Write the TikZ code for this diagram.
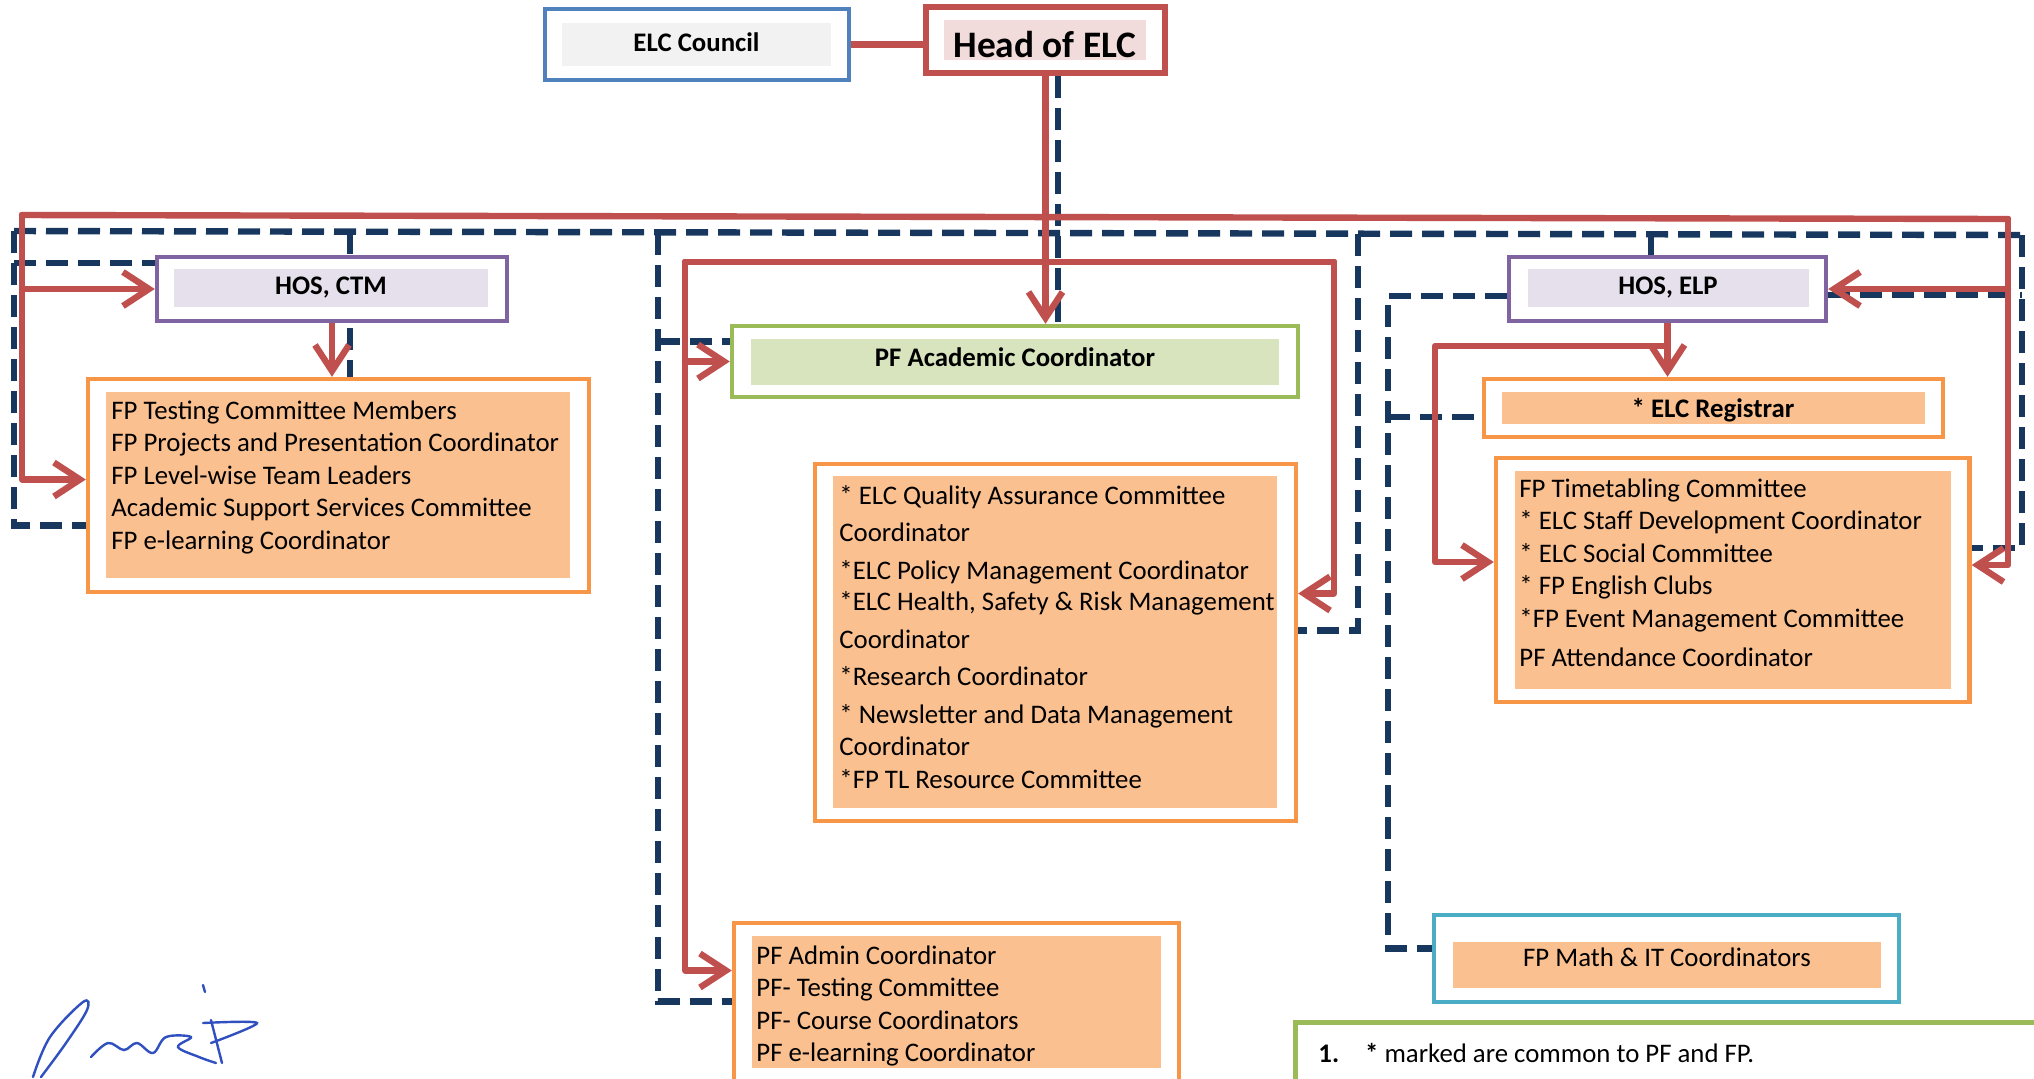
\documentclass[tikz,border=0pt]{standalone}
\usepackage{fontspec}
\setmainfont{Carlito}
\usetikzlibrary{arrows.meta, positioning, backgrounds, calc}
\definecolor{elcred}{HTML}{C0504D}
\definecolor{elcnavy}{HTML}{17375E}
\definecolor{elcblue}{HTML}{4F81BD}
\definecolor{elcgrey}{HTML}{F2F2F2}
\definecolor{elcpink}{HTML}{F2DCDB}
\definecolor{elcpurple}{HTML}{8064A2}
\definecolor{elclilac}{HTML}{E5E0EC}
\definecolor{elcgreen}{HTML}{9BBB59}
\definecolor{elclime}{HTML}{D7E4BD}
\definecolor{elcorange}{HTML}{F79646}
\definecolor{elcpeach}{HTML}{FAC090}
\definecolor{elcteal}{HTML}{4BACC6}
\definecolor{elcsign}{HTML}{3050C0}

\begin{document}
\begin{tikzpicture}[x=0.5pt, y=-0.5pt,
    frame/.style={draw, line width=2.2pt, fill=white, inner sep=0pt},
    panel/.style={inner sep=0pt},
    boxtext/.style={font=\fontsize{13.4}{16}\selectfont\bfseries},
    listtext/.style={font=\fontsize{13.4}{16.25}\selectfont, align=left, inner sep=0pt, anchor=north west},
    redline/.style={elcred, line width=3.2pt, line cap=round, line join=round},
    redarrow/.style={redline, -{Straight Barb[length=13pt, width=17pt, line width=3.2pt]}},
    navline/.style={elcnavy, line width=3.2pt, dash pattern=on 11pt off 5pt}
  ]
    \clip (0,0) rectangle (2034,1078);

    % top
    \node[frame, draw=elcblue, minimum width=152pt, minimum height=35.5pt] (council) at (697,44.5) {};
    \node[panel, fill=elcgrey, minimum width=134.5pt, minimum height=21.5pt, boxtext, text depth=2.6pt] (councilin) at (696.5,44.5) {ELC Council};
    \node[frame, draw=elcred, line width=2.6pt, minimum width=119.5pt, minimum height=33pt] (head) at (1045.5,40) {};
    \node[panel, fill=elcpink, minimum width=101pt, minimum height=20pt, font=\fontsize{18.7}{22}\selectfont\bfseries, text height=17pt, text depth=0pt] (headin) at (1045,40) {Head of ELC};

    % CTM side
    \node[frame, draw=elcpurple, minimum width=175pt, minimum height=32pt] (hosctm) at (332,289) {};
    \node[panel, fill=elclilac, minimum width=157pt, minimum height=19pt, boxtext] (hosctmin) at (331,288) {HOS, CTM};
    \node[frame, draw=elcorange, minimum width=250.5pt, minimum height=106.5pt] (ctmlist) at (338.5,485.5) {};
    \node[panel, fill=elcpeach, minimum width=232pt, minimum height=93pt] (ctmin) at (338,485) {};
    \node[listtext] (ctmtext) at (111,400) {FP Testing Committee Members\\
      FP Projects and Presentation Coordinator\\
      FP Level-wise Team Leaders\\
      Academic Support Services Committee\\
      FP e-learning Coordinator};

    % PF side
    \node[frame, draw=elcgreen, minimum width=283pt, minimum height=35.5pt] (acad) at (1015,361.5) {};
    \node[panel, fill=elclime, minimum width=264pt, minimum height=23pt, boxtext, text depth=5pt] (acadin) at (1015,362) {PF Academic Coordinator};
    \node[frame, draw=elcorange, minimum width=240.5pt, minimum height=178.5pt] (qalist) at (1055.5,642.5) {};
    \node[panel, fill=elcpeach, minimum width=222pt, minimum height=166pt] (qain) at (1055,642) {};
    \node[listtext, font=\fontsize{13.4}{15.5}\selectfont] (qatext) at (839,485) {* ELC Quality Assurance Committee\\[3pt]
      Coordinator\\[3.5pt]
      *ELC Policy Management Coordinator\\
      *ELC Health, Safety \& Risk Management\\[3.5pt]
      Coordinator\\[3pt]
      *Research Coordinator\\[3.5pt]
      * Newsletter and Data Management\\[0.5pt]
      Coordinator\\[1pt]
      *FP TL Resource Committee};
    \node[frame, draw=elcorange, minimum width=222.5pt, minimum height=83.5pt] (admlist) at (956.5,1006.5) {};
    \node[panel, fill=elcpeach, minimum width=204.5pt, minimum height=66pt] (admin) at (956.5,1002) {};
    \node[listtext] (admtext) at (756,945) {PF Admin Coordinator\\
      PF- Testing Committee\\
      PF- Course Coordinators\\
      PF e-learning Coordinator};

    % ELP side
    \node[frame, draw=elcpurple, minimum width=158.5pt, minimum height=32pt] (hoselp) at (1667.5,289) {};
    \node[panel, fill=elclilac, minimum width=140.5pt, minimum height=19pt, boxtext] (hoselpin) at (1668,288) {HOS, ELP};
    \node[frame, draw=elcorange, minimum width=229.5pt, minimum height=29pt] (reg) at (1713.5,408) {};
    \node[panel, fill=elcpeach, minimum width=211.5pt, minimum height=16pt, boxtext, text height=11.6pt] (regin) at (1713,408) {* ELC Registrar};
    \node[frame, draw=elcorange, minimum width=236.75pt, minimum height=122pt] (ttlist) at (1732.75,580) {};
    \node[panel, fill=elcpeach, minimum width=218pt, minimum height=109pt] (ttin) at (1733,580) {};
    \node[listtext] (tttext) at (1519,478) {FP Timetabling Committee\\
      * ELC Staff Development Coordinator\\
      * ELC Social Committee\\
      * FP English Clubs\\
      *FP Event Management Committee\\[3.25pt]
      PF Attendance Coordinator};
    \node[frame, draw=elcteal, minimum width=232.5pt, minimum height=43.5pt] (math) at (1666.5,958.5) {};
    \node[panel, fill=elcpeach, minimum width=214pt, minimum height=23pt, font=\fontsize{13.4}{16}\selectfont, text depth=7.4pt] (mathin) at (1667,965) {FP Math \& IT Coordinators};

    % note
    \node[frame, draw=elcgreen, line width=2.5pt, minimum width=377.5pt, minimum height=36.5pt] (note) at (1672.5,1058.5) {};
    \node[anchor=west, inner sep=0pt, font=\fontsize{13.4}{16}\selectfont] (notetext) at (1318,1053) {\textbf{1.}\hspace{13pt}\textbf{*} marked are common to PF and FP.};

    % signature
    \draw[elcsign, line width=1.2pt, line cap=round] plot[smooth, tension=0.6] coordinates {(33,1077) (50,1037) (83,1002) (87,1010) (66,1043) (41,1077)};
    \draw[elcsign, line width=1.2pt, line cap=round] plot[smooth, tension=0.6] coordinates {(91,1057) (108,1043) (124,1050) (137,1043) (153,1053) (166,1037) (191,1037) (178,1047) (199,1057) (216,1063)};
    \draw[elcsign, line width=1.2pt, line cap=round] plot[smooth, tension=0.5] coordinates {(203,1023) (257,1023) (211,1043)};
    \draw[elcsign, line width=1.2pt, line cap=round] (211,1020) -- (222,1063);
    \draw[elcsign, line width=1.2pt, line cap=round] (203,985) -- (205,992);

    \begin{scope}[on background layer]
      \coordinate (redL) at (22,215);
      \coordinate (redR) at (2008,219);
      \coordinate (navL) at (14,231);
      \coordinate (navR) at (2022,235);
      \coordinate (pfL) at (685,262);
      \coordinate (pfR) at (1334,262);
      \coordinate (elpL) at (1435,346);
      \coordinate (ctmV) at (350,232);
      \coordinate (pfV) at (658,233);
      \coordinate (qaV) at (1358,234);
      \coordinate (elpV) at (1651,235);
      \coordinate (elpD) at (1388,296);
      \coordinate (headV) at ($(head.south)+(12.5,0)$);
      \coordinate (ctmW) at ($(ctmlist.west)+(0,-6)$);
      \coordinate (ttE) at ($(ttlist.east)+(0,-15)$);
      \coordinate (ttW) at ($(ttlist.west)+(0,-18)$);
      \coordinate (qaE) at ($(qalist.east)+(0,-49)$);
      \coordinate (admW) at ($(admlist.west)+(0,-36)$);
      \coordinate (admWn) at ($(admlist.west)+(0,-5)$);
      \coordinate (qaEn) at ($(qalist.east)+(0,-12)$);
      \coordinate (ctmWn) at ($(ctmlist.west)+(0,40)$);
      \coordinate (ttEn) at ($(ttin.east)+(0,-32)$);
      \coordinate (hosctmWn) at ($(hosctm.west)+(0,-26)$);
      \coordinate (acadWn) at ($(acad.west)+(0,-20)$);
      \coordinate (hoselpEn) at ($(hoselp.east)+(0,6)$);
      \coordinate (regWn) at ($(reg.west)+(0,9)$);
      \coordinate (mathWn) at ($(math.west)+(0,-10)$);

      % dashed links
      \draw[navline] (navL) -- (navR);
      \draw[navline] (navL) -- (navL |- ctmWn) -- (ctmWn);
      \draw[navline] (navL |- hosctmWn) -- (hosctmWn);
      \draw[navline] (ctmV) -- (ctmV |- ctmlist.north);
      \draw[navline] (headV) -- (headV |- acad.north);
      \draw[navline] (pfV) -- (pfV |- admWn) -- (admWn);
      \draw[navline] (pfV |- acadWn) -- (acadWn);
      \draw[navline] (qaV) -- (qaV |- qaEn) -- (qaEn);
      \draw[navline] (elpV) -- (elpV |- hoselp.north);
      \draw[navline] (hoselp.west |- elpD) -- (elpD) -- (elpD |- mathWn) -- (mathWn);
      \draw[navline] (elpD |- regWn) -- (regWn);
      \draw[navline] (navR) -- (navR |- ttEn) -- (ttEn);
      \draw[navline] (hoselpEn) -- (hoselpEn -| navR);

      % solid links
      \draw[redline] (council.east) -- (council.east -| head.west);
      \draw[redarrow] (head.south) -- (head.south |- acad.north);
      \draw[redline] (redL) -- (redR);
      \draw[redarrow] (redL) -- (redL |- ctmW) -- (ctmW);
      \draw[redarrow] (redL |- hosctm.west) -- (hosctm.west);
      \draw[redarrow] (hosctm.south) -- (hosctm.south |- ctmlist.north);
      \draw[redline] (pfL) -- (pfR);
      \draw[redarrow] (pfL) -- (pfL |- admW) -- (admW);
      \draw[redarrow] (pfL |- acad.west) -- (acad.west);
      \draw[redarrow] (pfR) -- (pfR |- qaE) -- (qaE);
      \draw[redarrow] (hoselp.south) -- (hoselp.south |- reg.north);
      \draw[redarrow] (hoselp.south |- elpL) -- (elpL) -- (elpL |- ttW) -- (ttW);
      \draw[redarrow] (redR) -- (redR |- ttE) -- (ttE);
      \draw[redarrow] (redR |- hoselp.east) -- (hoselp.east);
    \end{scope}
\end{tikzpicture}
\end{document}
